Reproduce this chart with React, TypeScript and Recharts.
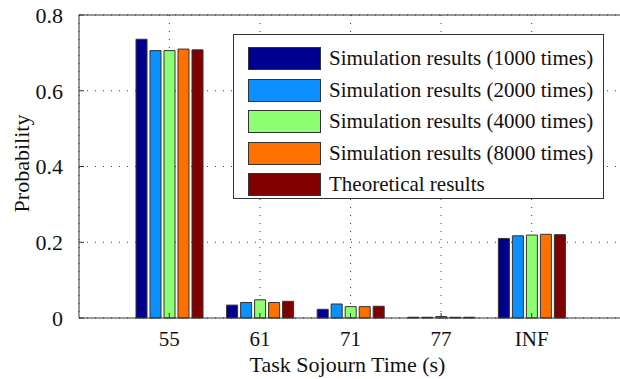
import React from 'react';
import { BarChart, Bar, XAxis, YAxis, CartesianGrid, Legend, ReferenceLine } from 'recharts';

const categories = ['55', '61', '71', '77', 'INF'];
const sim1000 = [0.736, 0.034, 0.023, 0.002, 0.210];
const sim2000 = [0.706, 0.041, 0.037, 0.002, 0.217];
const sim4000 = [0.706, 0.048, 0.030, 0.004, 0.219];
const sim8000 = [0.710, 0.041, 0.030, 0.002, 0.221];
const theory = [0.708, 0.044, 0.031, 0.002, 0.220];
const yTicks = [0, 0.2, 0.4, 0.6, 0.8];

const seriesNames = [
  'Simulation results (1000 times)',
  'Simulation results (2000 times)',
  'Simulation results (4000 times)',
  'Simulation results (8000 times)',
  'Theoretical results',
];
const seriesColors = ['#00008F', '#0A90FF', '#8CFF73', '#FF7000', '#800000'];
const seriesValues = [sim1000, sim2000, sim4000, sim8000, theory];

const data = categories.map((c, i) => {
  const row: Record<string, string | number> = { time: c };
  seriesValues.forEach((vals, s) => {
    row['s' + s] = vals[i];
  });
  return row;
});

const FONT = '"Liberation Serif", "Times New Roman", serif';

const renderLegend = (props: any) => {
  const payload = props.payload || [];
  return (
    <div
      style={{
        width: 371,
        height: 165,
        boxSizing: 'border-box',
        border: '1px solid #333',
        background: '#fff',
        paddingTop: 8,
        paddingLeft: 14,
        fontFamily: FONT,
      }}
    >
      {payload.map((p: any, i: number) => (
        <div key={i} style={{ display: 'flex', alignItems: 'center', height: 31.5 }}>
          <div
            style={{
              width: 73,
              height: 23,
              boxSizing: 'border-box',
              background: p.color,
              border: '1px solid #333',
            }}
          />
          <span style={{ marginLeft: 8, fontSize: 21, color: '#111', whiteSpace: 'nowrap' }}>{p.value}</span>
        </div>
      ))}
    </div>
  );
};

const YLabel = (props: any) => {
  const vb = props.viewBox || { y: 15, height: 303 };
  const cy = vb.y + vb.height / 2 - 3;
  return (
    <text
      x={29}
      y={cy}
      transform={`rotate(-90, 29, ${cy})`}
      textAnchor="middle"
      fontFamily={FONT}
      fontSize={22}
      fill="#111"
    >
      Probability
    </text>
  );
};

const XLabel = (props: any) => {
  const vb = props.viewBox || { x: 79, width: 543 };
  const cx = vb.x + vb.width / 2 - 3;
  return (
    <text x={cx} y={372} textAnchor="middle" fontFamily={FONT} fontSize={22} fill="#111">
      Task Sojourn Time (s)
    </text>
  );
};

export default function App() {
  return (
    <div style={{ position: 'relative', width: 620, height: 379, overflow: 'hidden', background: '#fff' }}>
      <style>{`body{margin:0;overflow:hidden;background:#fff}`}</style>
      <BarChart
        width={620}
        height={379}
        data={data}
        margin={{ top: 15, right: -2, bottom: 0, left: 0 }}
        barSize={11}
        barGap={3}
      >
        <CartesianGrid stroke="#444" strokeDasharray="1 7" />
        <XAxis
          dataKey="time"
          height={61}
          padding={{ left: 45, right: 45 }}
          axisLine={{ stroke: '#333' }}
          tickLine={{ stroke: '#333' }}
          tickSize={-5}
          tickMargin={18}
          tick={{ fontFamily: FONT, fontSize: 21, fill: '#111' }}
          label={XLabel}
        />
        <XAxis
          xAxisId="top"
          dataKey="time"
          orientation="top"
          height={0}
          padding={{ left: 45, right: 45 }}
          axisLine={{ stroke: '#333' }}
          tickLine={{ stroke: '#333' }}
          tickSize={-5}
          tickFormatter={() => ''}
        />
        <YAxis
          width={79}
          domain={[0, 0.8]}
          ticks={yTicks}
          axisLine={{ stroke: '#333' }}
          tickLine={{ stroke: '#333' }}
          tickSize={-5}
          tickMargin={21}
          tick={{ fontFamily: FONT, fontSize: 22, fill: '#111' }}
          label={YLabel}
        />
        <ReferenceLine y={0.8} stroke="#333" />
        {seriesNames.map((name, s) => (
          <Bar
            key={name}
            dataKey={'s' + s}
            name={name}
            fill={seriesColors[s]}
            stroke="#333"
            strokeWidth={1}
            isAnimationActive={false}
          />
        ))}
        <Legend
          layout="vertical"
          align="center"
          verticalAlign="middle"
          content={renderLegend}
          wrapperStyle={{ left: 233, top: 34, width: 371, height: 165 }}
        />
      </BarChart>
    </div>
  );
}
